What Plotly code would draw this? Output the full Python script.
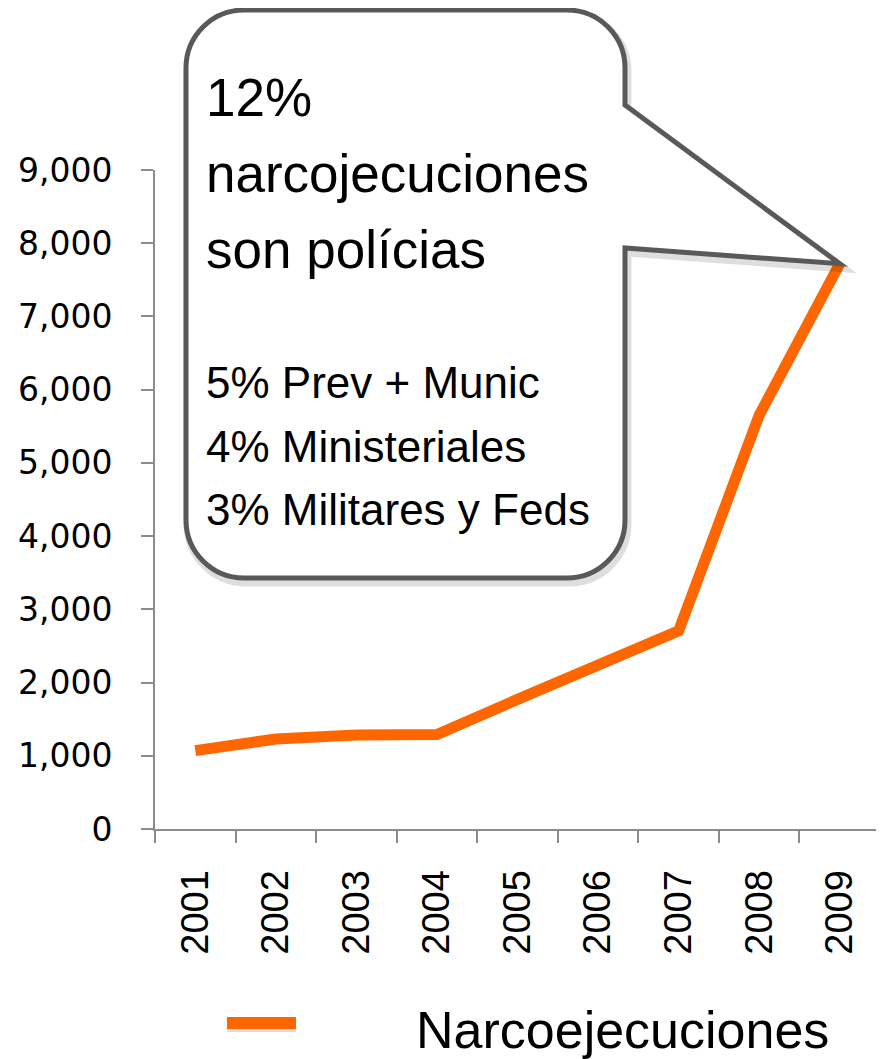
import plotly.graph_objects as go

# ---- data ----
years = ["2001", "2002", "2003", "2004", "2005", "2006", "2007", "2008", "2009"]
narcoejecuciones = [1070, 1230, 1285, 1290, 1770, 2240, 2705, 5650, 7720]
y_ticks = [0, 1000, 2000, 3000, 4000, 5000, 6000, 7000, 8000, 9000]
callout_big = ["12%", "narcojecuciones", "son polícias"]
callout_small = ["5% Prev + Munic", "4% Ministeriales", "3% Militares y Feds"]
series_name = "Narcoejecuciones"

# ---- layout geometry (page body has an 8px margin) ----
OFF = 8
W, H = 884 - OFF, 1059 - OFF
PL, PR, PT, PB = 155, 880, 170, 829   # plot area in page pixels
PW, PH = PR - PL, PB - PT
L, T = PL - OFF, PT - OFF
R = W - L - PW
B = H - T - PH
YMAX = 9000

def px(x):
    return (x - PL) / PW

def py(y):
    return (PB - y) / PH

ORANGE = "#FF6600"
AXIS = "#8C8C8C"
BOX = "#595959"
FONT = "Liberation Sans, Arial, sans-serif"

fig = go.Figure()
fig.add_trace(go.Scatter(
    x=years, y=narcoejecuciones, mode="lines", name=series_name,
    line=dict(color=ORANGE, width=11), showlegend=False,
))

# tip of callout anchored to the last data point
tip_x = (len(years) - 1 + 0.5) / len(years)
tip_y = narcoejecuciones[-1] / YMAX

def box_path(dx=0, dy=0):
    k = 0.5523
    r = 58
    x0, x1, yt, yb = 186 + dx, 625 + dx, 10 + dy, 578 + dy
    def P(x, y):
        return f"{px(x):.5f},{py(y):.5f}"
    tx = tip_x + (dx / PW)
    ty = tip_y - (dy / PH)
    s = f"M{P(x0, yt + r)} "
    s += f"C{P(x0, yt + r - k * r)} {P(x0 + r - k * r, yt)} {P(x0 + r, yt)} "
    s += f"L{P(x1 - r, yt)} "
    s += f"C{P(x1 - r + k * r, yt)} {P(x1, yt + r - k * r)} {P(x1, yt + r)} "
    s += f"L{P(x1, 105 + dy)} "
    s += f"L{tx:.5f},{ty:.5f} "
    s += f"L{P(x1, 248 + dy)} "
    s += f"L{P(x1, yb - r)} "
    s += f"C{P(x1, yb - r + k * r)} {P(x1 - r + k * r, yb)} {P(x1 - r, yb)} "
    s += f"L{P(x0 + r, yb)} "
    s += f"C{P(x0 + r - k * r, yb)} {P(x0, yb - r + k * r)} {P(x0, yb - r)} Z"
    return s

shapes = [
    dict(type="path", xref="paper", yref="paper", path=box_path(2, 4),
         line=dict(color="rgba(0,0,0,0.13)", width=9), fillcolor="rgba(0,0,0,0)", layer="above"),
    dict(type="path", xref="paper", yref="paper", path=box_path(),
         line=dict(color=BOX, width=5), fillcolor="white", layer="above"),
    # legend sample
    dict(type="line", xref="paper", yref="paper", x0=px(227), x1=px(296), y0=py(1026), y1=py(1026),
         line=dict(color="rgba(0,0,0,0.13)", width=12), layer="above"),
    dict(type="line", xref="paper", yref="paper", x0=px(227), x1=px(296), y0=py(1023), y1=py(1023),
         line=dict(color=ORANGE, width=12), layer="above"),
]

annotations = []
big_size, small_size = 53, 44
for txt, base in zip(callout_big, [116, 192, 268]):
    annotations.append(dict(
        text=txt, xref="paper", yref="paper", x=px(204), y=py(base - 0.3465 * big_size),
        xanchor="left", yanchor="middle", showarrow=False,
        font=dict(family=FONT, size=big_size, color="black"),
    ))
for txt, base in zip(callout_small, [398, 462, 525]):
    annotations.append(dict(
        text=txt, xref="paper", yref="paper", x=px(204), y=py(base - 0.3465 * small_size),
        xanchor="left", yanchor="middle", showarrow=False,
        font=dict(family=FONT, size=small_size, color="black"),
    ))
annotations.append(dict(
    text=series_name, xref="paper", yref="paper", x=px(414), y=py(1030),
    xanchor="left", yanchor="middle", showarrow=False,
    font=dict(family=FONT, size=52, color="black"),
))

fig.update_layout(
    width=W, height=H,
    margin=dict(l=L, r=R, t=T, b=B, pad=0),
    paper_bgcolor="white", plot_bgcolor="white",
    showlegend=False,
    shapes=shapes, annotations=annotations,
    xaxis=dict(
        type="category", categoryorder="array", categoryarray=years,
        range=[-0.5, len(years) - 0.5], tickson="boundaries",
        showline=True, linecolor=AXIS, linewidth=2,
        ticks="outside", ticklen=12, tickcolor=AXIS, tickwidth=2,
        tickangle=-90, ticklabelstandoff=24,
        tickfont=dict(family=FONT, size=38, color="black"),
        showgrid=False, zeroline=False, fixedrange=True,
    ),
    yaxis=dict(
        range=[0, YMAX], tickvals=y_ticks, tickformat=",",
        showline=True, linecolor=AXIS, linewidth=2,
        ticks="outside", ticklen=12, tickcolor=AXIS, tickwidth=2,
        ticklabelstandoff=22,
        tickfont=dict(family="DejaVu Sans, Verdana, sans-serif", size=33, color="black"),
        showgrid=False, zeroline=False, fixedrange=True,
    ),
)

fig.write_html("out.html")
